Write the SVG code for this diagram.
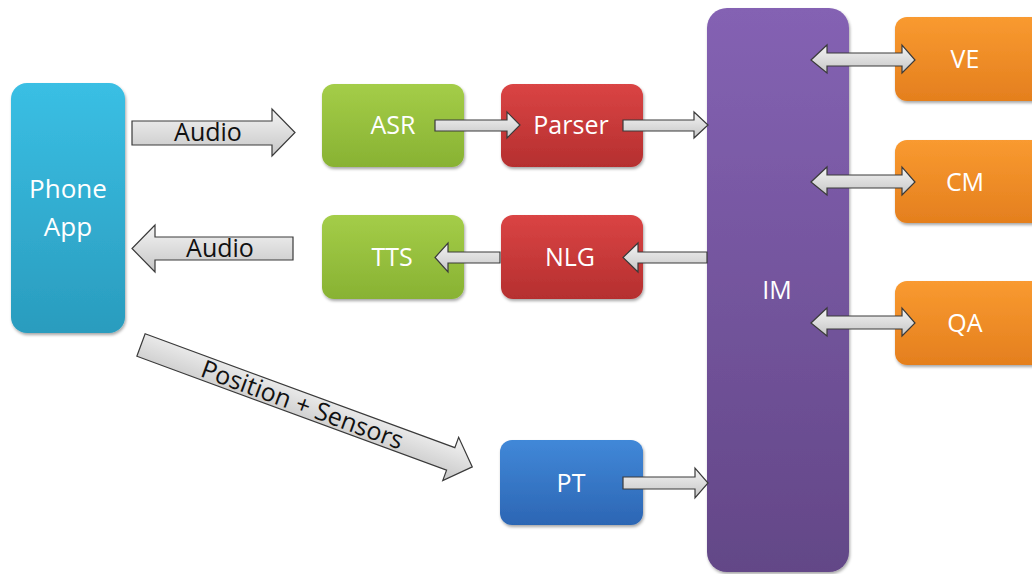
<svg xmlns="http://www.w3.org/2000/svg" width="1032" height="574" viewBox="0 0 1032 574">
<defs>
<linearGradient id="gCyan" x1="0" y1="0" x2="0" y2="1"><stop offset="0" stop-color="#3ABFE4"/><stop offset="1" stop-color="#2A9CBE"/></linearGradient>
<linearGradient id="gGreen" x1="0" y1="0" x2="0" y2="1"><stop offset="0" stop-color="#A4CD48"/><stop offset="1" stop-color="#88B233"/></linearGradient>
<linearGradient id="gRed" x1="0" y1="0" x2="0" y2="1"><stop offset="0" stop-color="#DA4444"/><stop offset="1" stop-color="#B52F2F"/></linearGradient>
<linearGradient id="gBlue" x1="0" y1="0" x2="0" y2="1"><stop offset="0" stop-color="#4188D8"/><stop offset="1" stop-color="#2C66B4"/></linearGradient>
<linearGradient id="gPurple" x1="0" y1="0" x2="0" y2="1"><stop offset="0" stop-color="#8462B3"/><stop offset="1" stop-color="#634787"/></linearGradient>
<linearGradient id="gOrange" x1="0" y1="0" x2="0" y2="1"><stop offset="0" stop-color="#F99A30"/><stop offset="1" stop-color="#E47F1E"/></linearGradient>
<linearGradient id="gArrow" x1="0" y1="0" x2="0" y2="1"><stop offset="0" stop-color="#F4F4F4"/><stop offset="1" stop-color="#C6C6C6"/></linearGradient>
<filter id="sh" x="-10%" y="-10%" width="130%" height="130%"><feDropShadow dx="1" dy="2" stdDeviation="1.5" flood-color="#000" flood-opacity="0.35"/></filter>
</defs>
<style>
.box{filter:url(#sh);}
.lbl{font-family:"Open Sans","Liberation Sans",sans-serif;font-size:25px;fill:#FFFFFF;text-anchor:middle;}
.big{font-size:26px;}
.arr{fill:url(#gArrow);stroke:#3A3A3A;stroke-width:1.2;stroke-linejoin:miter;}
.alb{font-family:"Open Sans","Liberation Sans",sans-serif;font-size:25px;fill:#111;text-anchor:middle;}
</style>
<rect width="1032" height="574" fill="#FFFFFF"/>

<g id="phone-app"><rect class="box" x="11" y="83" width="114" height="250" rx="16" fill="url(#gCyan)"/><text class="lbl big" x="68" y="198">Phone</text><text class="lbl big" x="68" y="236">App</text></g>
<g id="asr"><rect class="box" x="322" y="84" width="142" height="83" rx="12" fill="url(#gGreen)"/><text class="lbl" x="393" y="134">ASR</text></g>
<g id="parser"><rect class="box" x="501" y="84" width="142" height="83" rx="12" fill="url(#gRed)"/><text class="lbl" x="571" y="134">Parser</text></g>
<g id="tts"><rect class="box" x="322" y="215" width="142" height="84" rx="12" fill="url(#gGreen)"/><text class="lbl" x="392" y="266">TTS</text></g>
<g id="nlg"><rect class="box" x="501" y="215" width="142" height="84" rx="12" fill="url(#gRed)"/><text class="lbl" x="570" y="266">NLG</text></g>
<g id="pt"><rect class="box" x="500" y="440" width="143" height="85" rx="12" fill="url(#gBlue)"/><text class="lbl" x="571" y="492">PT</text></g>
<g id="im"><rect class="box" x="707" y="8" width="142" height="564" rx="20" fill="url(#gPurple)"/><text class="lbl" x="777" y="299">IM</text></g>
<g id="ve"><rect class="box" x="895" y="17" width="150" height="84" rx="12" fill="url(#gOrange)"/><text class="lbl" x="965" y="68">VE</text></g>
<g id="cm"><rect class="box" x="895" y="140" width="150" height="83" rx="12" fill="url(#gOrange)"/><text class="lbl" x="965" y="191">CM</text></g>
<g id="qa"><rect class="box" x="895" y="281" width="150" height="84" rx="12" fill="url(#gOrange)"/><text class="lbl" x="965" y="332">QA</text></g>

<g id="connectors">
<path class="arr" d="M132,121 H272 V109 L295,132.5 L272,156 V145 H132 Z"/>
<text class="alb" x="208" y="141">Audio</text>
<path class="arr" d="M293,237 H155 V225 L132,248.5 L155,272 V260 H293 Z"/>
<text class="alb" x="220" y="257">Audio</text>
<path class="arr" d="M435,120 H507 V112 L520,125 L507,138 V131 H435 Z"/>
<path class="arr" d="M623,120 H694 V112 L708,125 L694,138 V131 H623 Z"/>
<path class="arr" d="M500,252 H448 V243 L435,257.5 L448,272 V263 H500 Z"/>
<path class="arr" d="M707,252 H638 V243 L623,257.5 L638,272 V263 H707 Z"/>
<path class="arr" d="M623,477 H695 V468 L708,483 L695,498 V489 H623 Z"/>
<path class="arr" d="M811,60 L827,45 V53 H902 V45 L915,60 L902,73 V66 H827 V73 Z"/>
<path class="arr" d="M811,182 L827,167 V175 H902 V167 L915,182 L902,195 V188 H827 V195 Z"/>
<path class="arr" d="M811,323 L827,308 V316 H902 V308 L915,323 L902,336 V329 H827 V336 Z"/>
<g transform="translate(141,345) rotate(20.2)">
<path class="arr" d="M0,-12 H330 V-23 L353,0 L330,23 V12 H0 Z"/>
<text class="alb" x="172" y="9">Position + Sensors</text>
</g>
</g>
</svg>
